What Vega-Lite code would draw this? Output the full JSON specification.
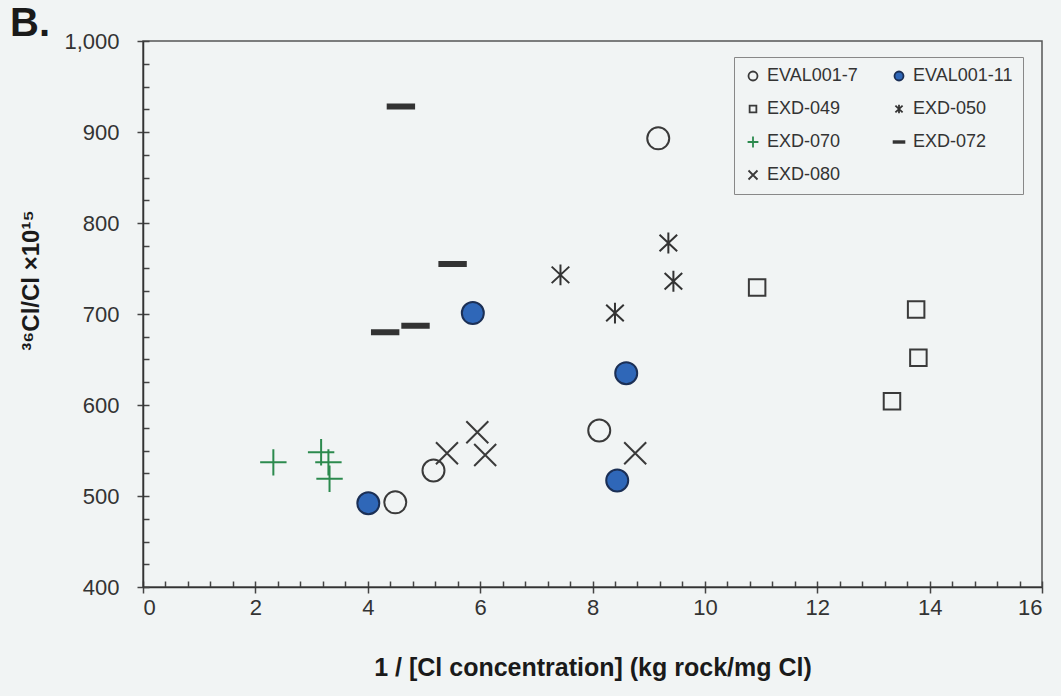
{
  "$schema": "https://vega.github.io/schema/vega-lite/v6.json",
  "width": 899,
  "height": 546,
  "autosize": {"type": "none"},
  "padding": {"left": 143, "top": 41, "right": 19, "bottom": 109},
  "background": "#f1f4f4",
  "title": {"text": "B.", "anchor": "start", "frame": "group", "dx": -133, "offset": 0, "baseline": "bottom", "dy": 54, "fontSize": 40, "font": "Liberation Sans", "fontWeight": "bold", "color": "#1a1a1a"},
  "config": {
    "view": {"stroke": "#555", "strokeWidth": 1.5},
    "axis": {"grid": false, "domainColor": "#333", "domainWidth": 1.5, "tickColor": "#444", "tickWidth": 1.5, "labelFont": "Liberation Sans", "labelColor": "#333", "titleFont": "Liberation Sans", "titleColor": "#1a1a1a"},
    "legend": {"labelFont": "Liberation Sans"}
  },
  "data": {"values": [
    {"series": "EVAL001-7", "x": 4.49, "y": 493},
    {"series": "EVAL001-7", "x": 5.17, "y": 528},
    {"series": "EVAL001-7", "x": 8.12, "y": 572},
    {"series": "EVAL001-7", "x": 9.17, "y": 893},
    {"series": "EVAL001-11", "x": 4.01, "y": 492},
    {"series": "EVAL001-11", "x": 5.87, "y": 701},
    {"series": "EVAL001-11", "x": 8.60, "y": 635},
    {"series": "EVAL001-11", "x": 8.44, "y": 517},
    {"series": "EXD-049", "x": 10.93, "y": 729},
    {"series": "EXD-049", "x": 13.76, "y": 705},
    {"series": "EXD-049", "x": 13.80, "y": 652},
    {"series": "EXD-049", "x": 13.33, "y": 604},
    {"series": "EXD-050", "x": 7.43, "y": 743},
    {"series": "EXD-050", "x": 9.35, "y": 778},
    {"series": "EXD-050", "x": 9.44, "y": 736},
    {"series": "EXD-050", "x": 8.40, "y": 701},
    {"series": "EXD-070", "x": 2.32, "y": 537},
    {"series": "EXD-070", "x": 3.17, "y": 548},
    {"series": "EXD-070", "x": 3.30, "y": 537},
    {"series": "EXD-070", "x": 3.32, "y": 519},
    {"series": "EXD-072", "x": 4.59, "y": 928},
    {"series": "EXD-072", "x": 5.51, "y": 755},
    {"series": "EXD-072", "x": 4.85, "y": 687},
    {"series": "EXD-072", "x": 4.31, "y": 680},
    {"series": "EXD-080", "x": 5.41, "y": 547},
    {"series": "EXD-080", "x": 5.95, "y": 570},
    {"series": "EXD-080", "x": 6.09, "y": 545},
    {"series": "EXD-080", "x": 8.76, "y": 547}
  ]},
  "resolve": {"axis": {"x": "independent", "y": "independent"}},
  "layer": [
    {
      "mark": {"type": "point", "opacity": 0},
      "encoding": {
        "x": {"field": "x", "type": "quantitative", "scale": {"domain": [0, 16], "nice": false, "zero": false},
          "axis": {"orient": "bottom", "values": [0,0.4,0.8,1.2,1.6,2,2.4,2.8,3.2,3.6,4,4.4,4.8,5.2,5.6,6,6.4,6.8,7.2,7.6,8,8.4,8.8,9.2,9.6,10,10.4,10.8,11.2,11.6,12,12.4,12.8,13.2,13.6,14,14.4,14.8,15.2,15.6,16], "tickSize": -6, "labels": false, "domain": false, "title": null}},
        "y": {"field": "y", "type": "quantitative", "scale": {"domain": [400, 1000], "nice": false, "zero": false},
          "axis": {"orient": "left", "values": [400,425,450,475,500,525,550,575,600,625,650,675,700,725,750,775,800,825,850,875,900,925,950,975,1000], "tickSize": -6, "labels": false, "domain": false, "title": null}}
      }
    },
    {
      "mark": {"type": "point", "opacity": 1, "strokeWidth": 2, "size": 484},
      "encoding": {
        "x": {"field": "x", "type": "quantitative",
          "axis": {"orient": "bottom", "values": [0,2,4,6,8,10,12,14,16], "tickSize": 6, "labelFontSize": 22, "labelPadding": 4,
            "title": "1 / [Cl concentration] (kg rock/mg Cl)", "titleFontSize": 25, "titleFontWeight": "bold", "titlePadding": 37}},
        "y": {"field": "y", "type": "quantitative",
          "axis": {"orient": "left", "values": [400,500,600,700,800,900,1000], "format": ",d", "tickSize": 6, "labelFontSize": 22, "labelPadding": 18,
            "title": "³⁶Cl/Cl ×10¹⁵", "titleFontSize": 24, "titleFontWeight": "bold", "titleX": -100, "titleY": 239}},
        "shape": {"field": "series", "type": "nominal",
          "scale": {"domain": ["EVAL001-7","EVAL001-11","EXD-049","EXD-050","EXD-070","EXD-072","EXD-080"],
            "range": ["M1,0A1,1,0,1,1,-1,0A1,1,0,1,1,1,0Z", "M1,0A1,1,0,1,1,-1,0A1,1,0,1,1,1,0Z", "M-0.75,-0.75H0.75V0.75H-0.75Z", "M0,-0.95V0.95M-0.8,-0.75L0.8,0.75M-0.8,0.75L0.8,-0.75", "M-1.2,0H1.2M0,-1.2V1.2", "M-1.2,-0.18H1.2V0.18H-1.2Z", "M-1,-1L1,1M-1,1L1,-1"]},
          "legend": {"orient": "none", "legendX": 591, "legendY": 16, "columns": 2, "direction": "horizontal", "columnPadding": 32, "rowPadding": 15, "padding": 10, "title": null,
            "labelFontSize": 18, "labelColor": "#333", "symbolSize": 81, "symbolStrokeWidth": 1.8, "strokeColor": "#888", "labelOffset": 5}},
        "stroke": {"field": "series", "type": "nominal",
          "scale": {"domain": ["EVAL001-7","EVAL001-11","EXD-049","EXD-050","EXD-070","EXD-072","EXD-080"],
            "range": ["#3a3a3a","#1b2f55","#3a3a3a","#333333","#2c8a4e","#333333","#3a3a3a"]}},
        "fill": {"field": "series", "type": "nominal",
          "scale": {"domain": ["EVAL001-7","EVAL001-11","EXD-049","EXD-050","EXD-070","EXD-072","EXD-080"],
            "range": ["transparent","#2f67b8","transparent","transparent","transparent","#333333","transparent"]}}
      }
    }
  ]
}
